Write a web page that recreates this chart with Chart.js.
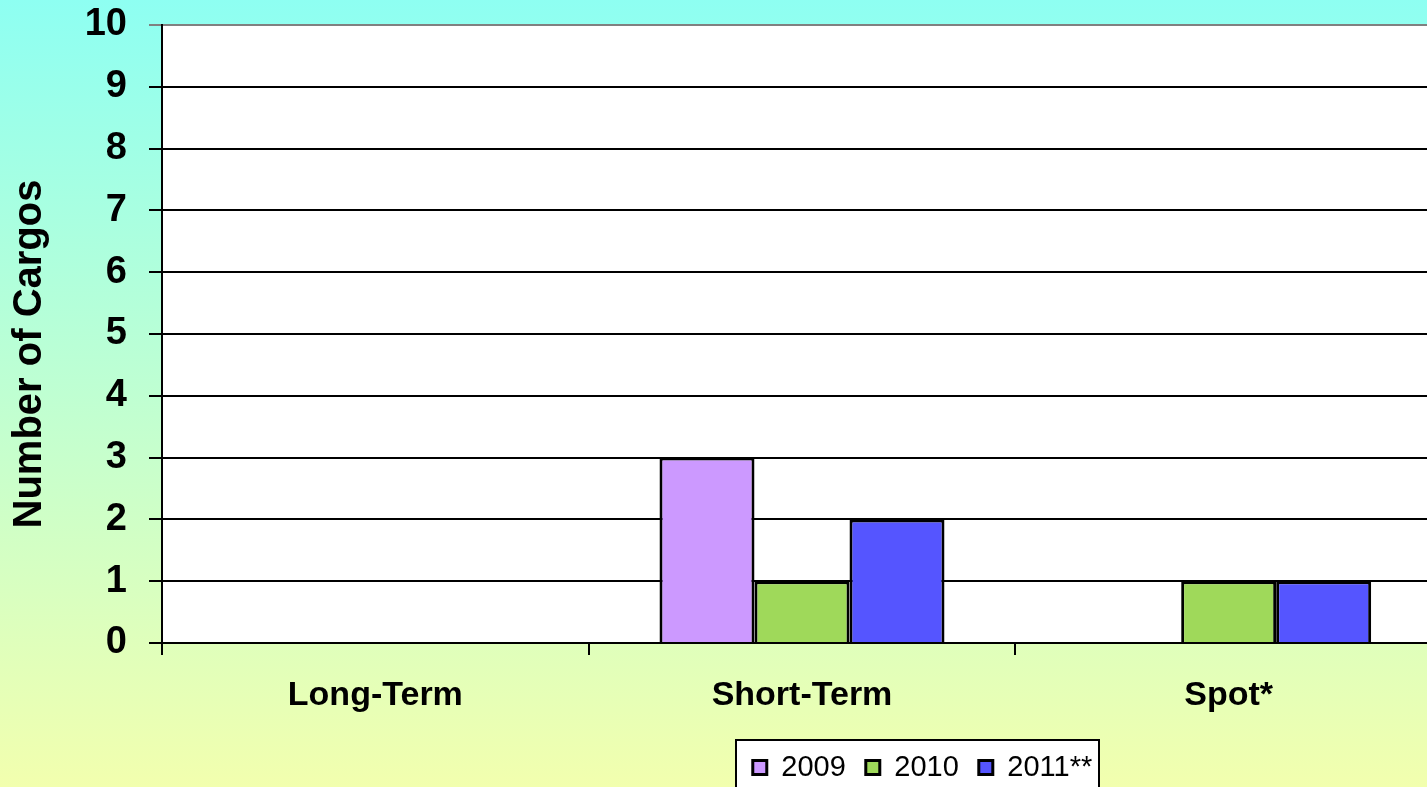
<!DOCTYPE html>
<html>
<head>
<meta charset="utf-8">
<script src="https://cdn.jsdelivr.net/npm/chart.js@4"></script>
<style>
  body { margin: 0; overflow: hidden; }
  /* la zone de tracé de l'original déborde à droite de l'image */
  #cadre { width: 1427px; height: 787px; overflow: hidden; }
  #wrap { width: 1442px; height: 787px; position: relative; }
</style>
</head>
<body>
<div id="cadre"><div id="wrap"><canvas id="cargoChart"></canvas></div></div>
<script>
// données
const categories = ['Long-Term', 'Short-Term', 'Spot*'];
const seriesNames = ['2009', '2010', '2011**'];
const values2009 = [0, 3, 0];
const values2010 = [0, 1, 1];
const values2011 = [0, 2, 1];
const yTicks = [0, 1, 2, 3, 4, 5, 6, 7, 8, 9, 10];

const FONT = 'Arial, "Liberation Sans", sans-serif';

// fond dégradé, zone de tracé blanche et cadre de la légende
const backgroundPlugin = {
    id: 'fond',
    beforeDraw(chart) {
        const ctx = chart.ctx;
        const g = ctx.createLinearGradient(0, 0, 0, chart.height);
        g.addColorStop(0, '#8EFFF2');
        g.addColorStop(0.5, '#BFFFD2');
        g.addColorStop(1, '#F2FFAE');
        ctx.save();
        ctx.fillStyle = g;
        ctx.fillRect(0, 0, chart.width, chart.height);
        const a = chart.chartArea;
        ctx.fillStyle = '#FFFFFF';
        ctx.fillRect(a.left, a.top, a.right - a.left, a.bottom - a.top);

        // cadre blanc de la légende
        const lg = chart.legend;
        ctx.strokeStyle = '#000000';
        ctx.lineWidth = 2;
        ctx.fillRect(736, lg.top + 7, 363, 60);
        ctx.strokeRect(736, lg.top + 7, 363, 60);
        ctx.restore();
    }
};

// légende déplacée + titre de l'axe Y un peu plus bas, comme dans l'original
const layoutPlugin = {
    id: 'ajustements',
    afterLayout(chart) {
        const lg = chart.legend;
        lg.left = 706;
        lg.right = 1139;
        lg.width = lg.right - lg.left;
        lg.top = 733;
        lg.bottom = lg.top + lg.height;

        const ys = chart.scales.y;
        if (!ys._titreDecale) {
            const orig = ys.drawTitle;
            ys.drawTitle = function () {
                this.ctx.save();
                this.ctx.translate(0, 20);
                orig.call(this);
                this.ctx.restore();
            };
            ys._titreDecale = true;
        }
    }
};

const ctx = document.getElementById('cargoChart').getContext('2d');
myChart = new Chart(ctx, {
    type: 'bar',
    data: {
        labels: categories,
        datasets: [
            { label: seriesNames[0], data: values2009, backgroundColor: '#CC99FF', borderColor: '#000000', borderWidth: 3 },
            { label: seriesNames[1], data: values2010, backgroundColor: '#9FD95A', borderColor: '#000000', borderWidth: 3 },
            { label: seriesNames[2], data: values2011, backgroundColor: '#5555FF', borderColor: '#000000', borderWidth: 3 }
        ]
    },
    options: {
        responsive: true,
        maintainAspectRatio: false,
        animation: false,
        categoryPercentage: 0.668,
        barPercentage: 1,
        layout: { padding: { left: 4, top: 25, right: 0, bottom: 0 } },
        plugins: {
            tooltip: { enabled: false },
            legend: {
                position: 'bottom',
                labels: {
                    color: '#000000',
                    font: { family: FONT, size: 29 },
                    boxWidth: 14,
                    boxHeight: 14,
                    padding: 20
                }
            }
        },
        scales: {
            x: {
                grid: {
                    offset: true,
                    drawOnChartArea: false,
                    color: '#000000',
                    lineWidth: 2,
                    tickLength: 12
                },
                border: { color: '#000000', width: 2 },
                ticks: {
                    color: '#000000',
                    padding: 20,
                    font: { family: FONT, size: 34, weight: 'bold' }
                },
                afterFit(s) { s.height = 85; }
            },
            y: {
                min: 0,
                max: 10,
                afterBuildTicks(s) { s.ticks = yTicks.map(v => ({ value: v })); },
                grid: {
                    color: (c) => (c.tick && c.tick.value === 10 ? '#808080' : '#000000'),
                    lineWidth: 2,
                    tickLength: 13
                },
                border: { color: '#000000', width: 2 },
                ticks: {
                    color: '#000000',
                    padding: 22,
                    font: { family: FONT, size: 38, weight: 'bold' }
                },
                title: {
                    display: true,
                    text: 'Number of Cargos',
                    color: '#000000',
                    padding: { top: 2, bottom: 2 },
                    font: { family: FONT, size: 40, weight: 'bold' }
                },
                afterFit(s) {
                    s.width = 158;
                    s.paddingTop = 0;
                    s.paddingBottom = 0;
                }
            }
        }
    },
    plugins: [backgroundPlugin, layoutPlugin]
});
</script>
</body>
</html>
